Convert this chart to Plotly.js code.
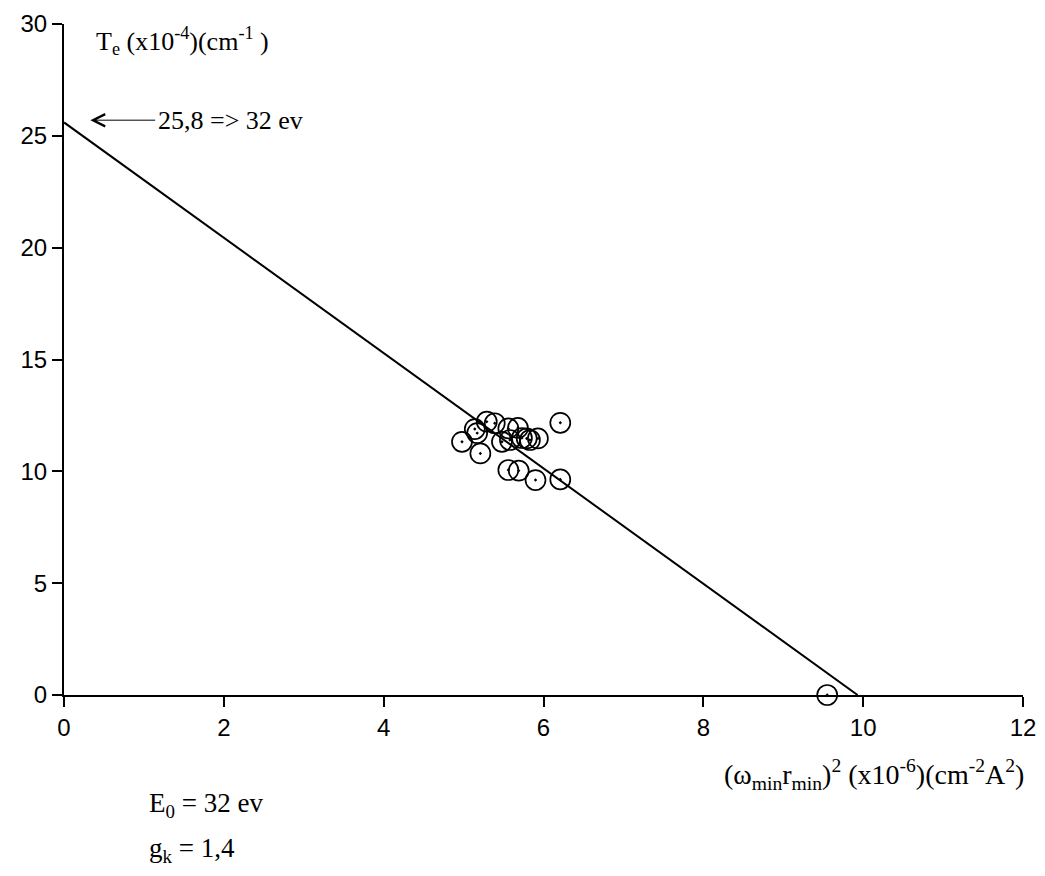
<!DOCTYPE html>
<html>
<head>
<meta charset="utf-8">
<script src="https://cdn.plot.ly/plotly-3.0.1.min.js"></script>
<style>html,body{margin:0;padding:0;background:#fff;}#chart{width:1045px;height:876px;}</style>
</head>
<body>
<div id="chart"></div>
<script>
// Measured points: x = (omega_min r_min)^2 (x10^-6), y = Te (x10^-4)
const pointsX = [4.98, 5.14, 5.17, 5.21, 5.29, 5.39, 5.48, 5.56, 5.58, 5.68, 5.73, 5.79, 5.83, 5.93, 6.21, 5.56, 5.69, 5.90, 6.21, 9.55];
const pointsY = [11.32, 11.89, 11.71, 10.80, 12.22, 12.15, 11.32, 11.92, 11.40, 11.94, 11.49, 11.47, 11.40, 11.47, 12.17, 10.06, 10.03, 9.61, 9.64, 0.0];
// Fitted straight line end points
const fitX = [0, 9.93];
const fitY = [25.6, 0];
const xTicks = [0, 2, 4, 6, 8, 10, 12];
const yTicks = [0, 5, 10, 15, 20, 25, 30];

const serif = "'Liberation Serif', 'Times New Roman', serif";
const sans = "'Liberation Sans', Arial, sans-serif";

const traces = [
  {
    x: fitX, y: fitY, mode: 'lines', type: 'scatter',
    line: {color: '#000', width: 2}, hoverinfo: 'skip', showlegend: false
  },
  {
    x: pointsX, y: pointsY, mode: 'markers', type: 'scatter',
    marker: {symbol: 'circle-open-dot', size: 20, color: '#000', line: {color: '#000', width: 1.7}},
    showlegend: false, cliponaxis: false
  }
];

const layout = {
  width: 1045, height: 876,
  margin: {l: 64, r: 22, t: 24, b: 181},
  paper_bgcolor: '#fff', plot_bgcolor: '#fff',
  showlegend: false,
  xaxis: {
    range: [0, 12], tickvals: xTicks, ticktext: xTicks.map(String),
    showgrid: false, zeroline: false, showline: true, linecolor: '#000', linewidth: 2,
    ticks: 'outside', ticklen: 10, tickwidth: 2, tickcolor: '#000',
    tickfont: {family: sans, size: 24, color: '#000'}, fixedrange: true
  },
  yaxis: {
    range: [0, 30], tickvals: yTicks, ticktext: yTicks.map(String),
    showgrid: false, zeroline: false, showline: true, linecolor: '#000', linewidth: 2,
    ticks: 'outside', ticklen: 10, tickwidth: 2, tickcolor: '#000',
    tickfont: {family: sans, size: 24, color: '#000'}, fixedrange: true
  },
  annotations: [
    {
      xref: 'paper', yref: 'paper', x: 0.031, y: 0.975, xanchor: 'left', yanchor: 'middle',
      text: 'T<sub>e</sub> (x10<sup>-4</sup>)(cm<sup>-1</sup> )', showarrow: false,
      font: {family: serif, size: 26, color: '#000'}
    },
    {
      xref: 'x', yref: 'y', x: 1.15, y: 25.7, xanchor: 'left', yanchor: 'middle',
      text: '25,8 => 32 ev', showarrow: false,
      font: {family: serif, size: 26, color: '#000'}
    },
    {
      xref: 'x', yref: 'y', x: 0.33, y: 25.7, axref: 'x', ayref: 'y', ax: 1.16, ay: 25.7,
      text: '', showarrow: true, arrowhead: 5, arrowsize: 2.4, arrowwidth: 1, arrowcolor: '#000',
      standoff: 0, startstandoff: 0
    },
    {
      xref: 'paper', yref: 'paper', x: 1.003, y: -0.119, xanchor: 'right', yanchor: 'middle',
      text: '(ω<sub>min</sub>r<sub>min</sub>)<sup>2</sup> (x10<sup>-6</sup>)(cm<sup>-2</sup>A<sup>2</sup>)',
      showarrow: false, font: {family: serif, size: 28, color: '#000'}
    },
    {
      xref: 'paper', yref: 'paper', x: 0.087, y: -0.164, xanchor: 'left', yanchor: 'middle',
      text: 'E<sub>0</sub> = 32 ev', showarrow: false,
      font: {family: serif, size: 27, color: '#000'}
    },
    {
      xref: 'paper', yref: 'paper', x: 0.087, y: -0.231, xanchor: 'left', yanchor: 'middle',
      text: 'g<sub>k</sub> = 1,4', showarrow: false,
      font: {family: serif, size: 27, color: '#000'}
    }
  ]
};

Plotly.newPlot('chart', traces, layout, {displayModeBar: false, staticPlot: true});
</script>
</body>
</html>
